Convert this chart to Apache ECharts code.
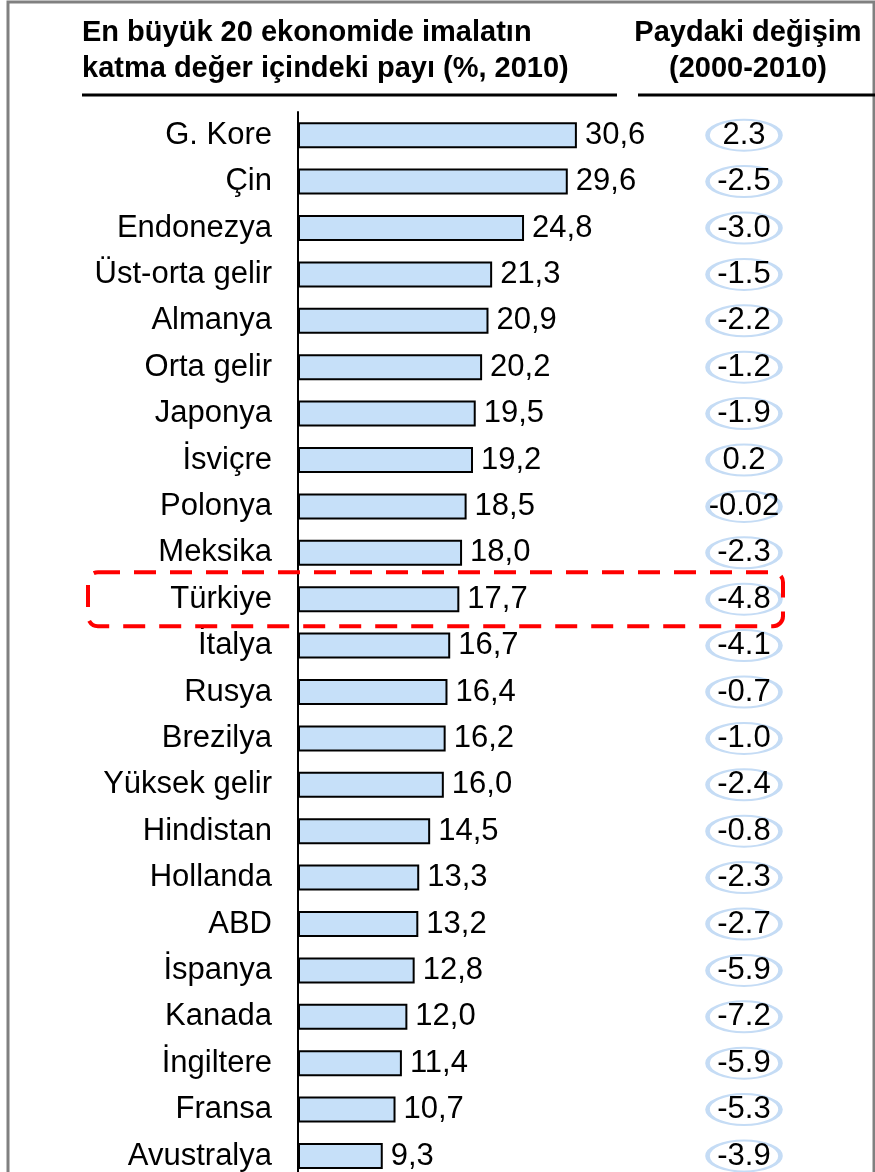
<!DOCTYPE html>
<html><head><meta charset="utf-8">
<script src="https://cdn.jsdelivr.net/npm/echarts@6/dist/echarts.min.js"></script>
<style>html,body{margin:0;padding:0;background:#fff}#c{width:875px;height:1172px}</style>
</head><body><div id="c"></div>
<script>
const categories = ["G. Kore","Çin","Endonezya","Üst-orta gelir","Almanya","Orta gelir","Japonya","İsviçre","Polonya","Meksika","Türkiye","İtalya","Rusya","Brezilya","Yüksek gelir","Hindistan","Hollanda","ABD","İspanya","Kanada","İngiltere","Fransa","Avustralya"];
const shares = [30.6,29.6,24.8,21.3,20.9,20.2,19.5,19.2,18.5,18.0,17.7,16.7,16.4,16.2,16.0,14.5,13.3,13.2,12.8,12.0,11.4,10.7,9.3];
const changes = [2.3,-2.5,-3.0,-1.5,-2.2,-1.2,-1.9,0.2,-0.02,-2.3,-4.8,-4.1,-0.7,-1.0,-2.4,-0.8,-2.3,-2.7,-5.9,-7.2,-5.9,-5.3,-3.9];
const highlight = "Türkiye";

const FONT = "'Liberation Sans', Arial, sans-serif";
const chart = echarts.init(document.getElementById('c'), null, {renderer:'canvas'});
const fmtChange = v => (Math.abs(v*10 - Math.round(v*10)) < 1e-9) ? v.toFixed(1) : String(v);

const gridTop = 112, bandH = 46.4, gridH = bandH * categories.length;

chart.setOption({
  animation:false,
  grid:[
    {left:298, top:gridTop, width:319, height:gridH, outerBoundsMode:'none', containLabel:false},
    {left:700, top:gridTop, width:88, height:gridH, outerBoundsMode:'none', containLabel:false}
  ],
  xAxis:[
    {gridIndex:0, type:'value', min:0, max:35, show:false},
    {gridIndex:1, type:'value', min:0, max:1, show:false}
  ],
  yAxis:[
    {gridIndex:0, type:'category', data:categories, inverse:true,
     axisLine:{show:true, lineStyle:{color:'#000', width:2}}, axisTick:{show:false},
     axisLabel:{color:'#000', fontSize:31, fontFamily:FONT, margin:26, padding:[3,0,0,0]}},
    {gridIndex:1, type:'category', data:categories, inverse:true, show:false}
  ],
  series:[
    {type:'bar', xAxisIndex:0, yAxisIndex:0, data:shares, barWidth:26,
     itemStyle:{color:'#c6e0f9', borderColor:'#000', borderWidth:2},
     label:{show:true, position:'right', distance:8, color:'#000', fontSize:31, fontFamily:FONT, padding:[3,0,0,0],
       formatter:p=>p.value.toFixed(1).replace('.',',')}},
    {type:'scatter', xAxisIndex:1, yAxisIndex:1, symbol:'circle', symbolSize:[73,31],
     data:changes.map((v,i)=>[0.5, categories[i], v]),
     itemStyle:{color:'rgba(255,255,255,0)', borderColor:'#c5dcf5', borderWidth:3, opacity:1},
     label:{show:true, position:'inside', color:'#000', fontSize:31, fontFamily:FONT, padding:[3,0,0,0],
       formatter:p=>fmtChange(p.value[2])}}
  ]
});

const yc = chart.convertToPixel({yAxisIndex:0}, highlight);
chart.setOption({
  graphic:[
    {type:'rect', shape:{x:8, y:2, width:866, height:1200}, style:{fill:'none', stroke:'#808080', lineWidth:3}, silent:true},
    {type:'text', x:82, y:33, style:{text:'En büyük 20 ekonomide imalatın', font:'bold 29px '+FONT, fill:'#000', textVerticalAlign:'middle'}},
    {type:'text', x:82, y:69, style:{text:'katma değer içindeki payı (%, 2010)', font:'bold 29px '+FONT, fill:'#000', textVerticalAlign:'middle'}},
    {type:'text', x:748, y:33, style:{text:'Paydaki değişim', font:'bold 29px '+FONT, fill:'#000', textAlign:'center', textVerticalAlign:'middle'}},
    {type:'text', x:748, y:69, style:{text:'(2000-2010)', font:'bold 29px '+FONT, fill:'#000', textAlign:'center', textVerticalAlign:'middle'}},
    {type:'line', shape:{x1:82, y1:95, x2:617, y2:95}, style:{stroke:'#000', lineWidth:3}},
    {type:'line', shape:{x1:638, y1:95, x2:875, y2:95}, style:{stroke:'#000', lineWidth:3}},
    {type:'rect', shape:{x:88, y:yc-27, width:695, height:54, r:10}, z:100,
     style:{fill:'none', stroke:'#ff0000', lineWidth:4, lineDash:[22,14]}}
  ]
});
</script></body></html>
